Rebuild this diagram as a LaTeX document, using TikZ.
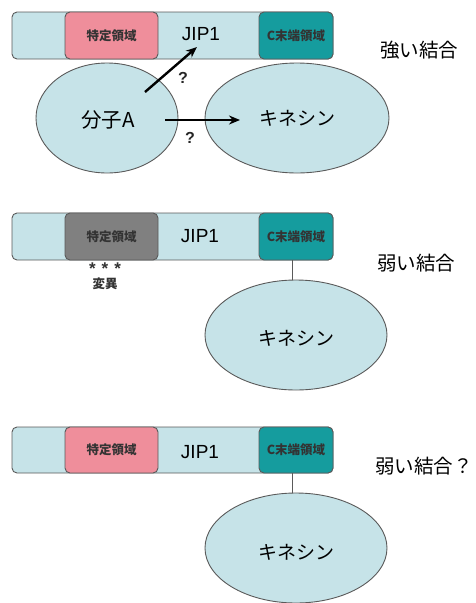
\documentclass[tikz,border=0pt]{standalone}
\usepackage{fontspec}
\setmainfont{Noto Sans CJK JP}
\newfontfamily\lat{Liberation Sans}
\usetikzlibrary{arrows.meta,shapes.geometric}
\definecolor{lb}{HTML}{C6E3E8}
\definecolor{pk}{HTML}{EF8E9B}
\definecolor{tl}{HTML}{159C9E}
\definecolor{gy}{HTML}{808080}
\definecolor{ed}{HTML}{5A5A5A}
\tikzset{
  bar/.style={draw=ed, line width=0.9pt, fill=lb, rounded corners=5pt},
  dom/.style={draw=ed, line width=0.9pt, rounded corners=5pt, minimum height=47pt, inner sep=0pt},
  ell/.style={draw=ed, line width=0.9pt, fill=lb, ellipse, inner sep=0pt},
  big/.style={font=\fontsize{19}{19}\selectfont},
  small/.style={font=\fontsize{12.5}{12.5}\selectfont\bfseries, text=black!80},
  lbl/.style={font=\fontsize{19.5}{19.5}\selectfont},
  qm/.style={font=\fontsize{16}{16}\selectfont\lat\bfseries, text=black!85},
  star/.style={font=\fontsize{17}{17}\selectfont\lat\bfseries, text=black!80, inner sep=0pt},
  arr/.style={-{Stealth[length=11pt,width=9pt]}, line width=2.4pt},
  link/.style={draw=ed, line width=0.9pt}
}
\begin{document}
\begin{tikzpicture}[x=1pt,y=-1pt]
\useasboundingbox (0,0) rectangle (476,603);
% ---------- panel 1 ----------
\draw[bar] (12,12) rectangle (333,59);
\node[dom, fill=pk, minimum width=93pt] (sp1) at (111.5,35.5) {};
\node[small] at (sp1) {特定領域};
\node[dom, fill=tl, minimum width=74pt] (ct1) at (296,35.5) {};
\node[small] at (ct1) {C末端領域};
\node[big] (jip1) at (201,34) {\lat JIP1};
\node[lbl] (s1) at (419,50) {強い結合};
\node[ell, minimum width=142pt, minimum height=110pt] (a) at (107,118) {};
\node[big, font=\fontsize{20.5}{20.5}\selectfont] at (108,120) {分子A};
\node[ell, minimum width=184pt, minimum height=110pt] (k1) at (297,118) {};
\node[big] at (297,118) {キネシン};
\coordinate (a1s) at (145,92);
\coordinate (a1e) at (197,47);
\coordinate (a2s) at (165,120);
\coordinate (a2e) at (240,120);
\draw[arr] (a1s) -- (a1e);
\draw[arr] (a2s) -- (a2e);
\node[qm] at (183,78) {?};
\node[qm] at (190,138) {?};
% ---------- panel 2 ----------
\draw[bar] (12,213) rectangle (333,260);
\node[dom, fill=gy, minimum width=93pt] (sp2) at (111.5,236.5) {};
\node[small] at (sp2) {特定領域};
\node[dom, fill=tl, minimum width=74pt] (ct2) at (296,236.5) {};
\node[small] at (ct2) {C末端領域};
\node[big] (jip2) at (200,236) {\lat JIP1};
\node[star, anchor=north] (st) at (105,262.5) {*\hspace{6pt}*\hspace{6pt}*};
\node[small, inner sep=0pt, anchor=north] (mut) at (105,277.5) {変異};
\node[lbl] (s2) at (416,263) {弱い結合};
\node[ell, minimum width=182pt, minimum height=110pt] (k2) at (296,335) {};
\node[big] at (296,338) {キネシン};
\draw[link] (ct2.south -| 292,0) -- (k2.north -| 292,0);
% ---------- panel 3 ----------
\draw[bar] (12,427) rectangle (333,473);
\node[dom, fill=pk, minimum width=93pt, minimum height=46pt] (sp3) at (111.5,450) {};
\node[small] at (sp3) {特定領域};
\node[dom, fill=tl, minimum width=74pt, minimum height=46pt] (ct3) at (296,450) {};
\node[small] at (ct3) {C末端領域};
\node[big] (jip3) at (200,452) {\lat JIP1};
\node[lbl] (s3) at (424,466) {弱い結合？};
\node[ell, minimum width=182pt, minimum height=110pt] (k3) at (296,548) {};
\node[big] at (296,552) {キネシン};
\draw[link] (ct3.south -| 292,0) -- (k3.north -| 292,0);
\end{tikzpicture}
\end{document}
